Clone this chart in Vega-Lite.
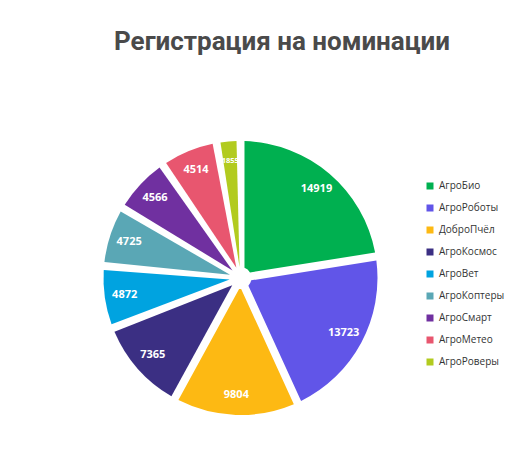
{
  "$schema": "https://vega.github.io/schema/vega-lite/v6.json",
  "autosize": {"type": "none"},
  "padding": {"left": 100, "top": 138, "right": 152, "bottom": 31},
  "width": 281,
  "height": 280,
  "background": "white",
  "title": {
    "text": "Регистрация на номинации",
    "anchor": "start",
    "dx": 14,
    "offset": 62,
    "baseline": "alphabetic",
    "font": "Roboto",
    "fontSize": 26,
    "fontWeight": "bold",
    "color": "#4a4a4a"
  },
  "data": {
    "values": [
      {"name": "АгроБио", "value": 14919, "rank": 1},
      {"name": "АгроРоботы", "value": 13723, "rank": 2},
      {"name": "ДоброПчёл", "value": 9804, "rank": 3},
      {"name": "АгроКосмос", "value": 7365, "rank": 4},
      {"name": "АгроВет", "value": 4872, "rank": 5},
      {"name": "АгроКоптеры", "value": 4725, "rank": 6},
      {"name": "АгроСмарт", "value": 4566, "rank": 7},
      {"name": "АгроМетео", "value": 4514, "rank": 8},
      {"name": "АгроРоверы", "value": 1855, "rank": 9}
    ]
  },
  "encoding": {
    "theta": {"field": "value", "type": "quantitative", "stack": true},
    "order": {"field": "rank", "type": "quantitative", "sort": "ascending"}
  },
  "layer": [
    {
      "mark": {"type": "arc", "outerRadius": 137, "innerRadius": 11, "padAngle": 0.058},
      "encoding": {
        "color": {
          "field": "name",
          "type": "nominal",
          "scale": {
            "domain": ["АгроБио", "АгроРоботы", "ДоброПчёл", "АгроКосмос", "АгроВет", "АгроКоптеры", "АгроСмарт", "АгроМетео", "АгроРоверы"],
            "range": ["#00B050", "#6155E8", "#FDB913", "#3B2F83", "#00A3E0", "#5AA7B5", "#7030A0", "#E8566F", "#B2CB1F"]
          },
          "legend": {
            "title": null,
            "orient": "none",
            "legendX": 325,
            "legendY": 43,
            "symbolType": "square",
            "symbolSize": 49,
            "symbolStrokeWidth": 0,
            "labelFont": "Open Sans",
            "labelFontSize": 10,
            "labelColor": "#333333",
            "labelOffset": 4,
            "rowPadding": 12
          }
        }
      }
    },
    {
      "mark": {"type": "text", "radius": 117, "font": "Open Sans", "fontWeight": "bold", "color": "white"},
      "encoding": {
        "text": {"field": "value", "type": "quantitative"},
        "size": {"condition": {"test": "datum.value < 3000", "value": 7.5}, "value": 11}
      }
    }
  ]
}
